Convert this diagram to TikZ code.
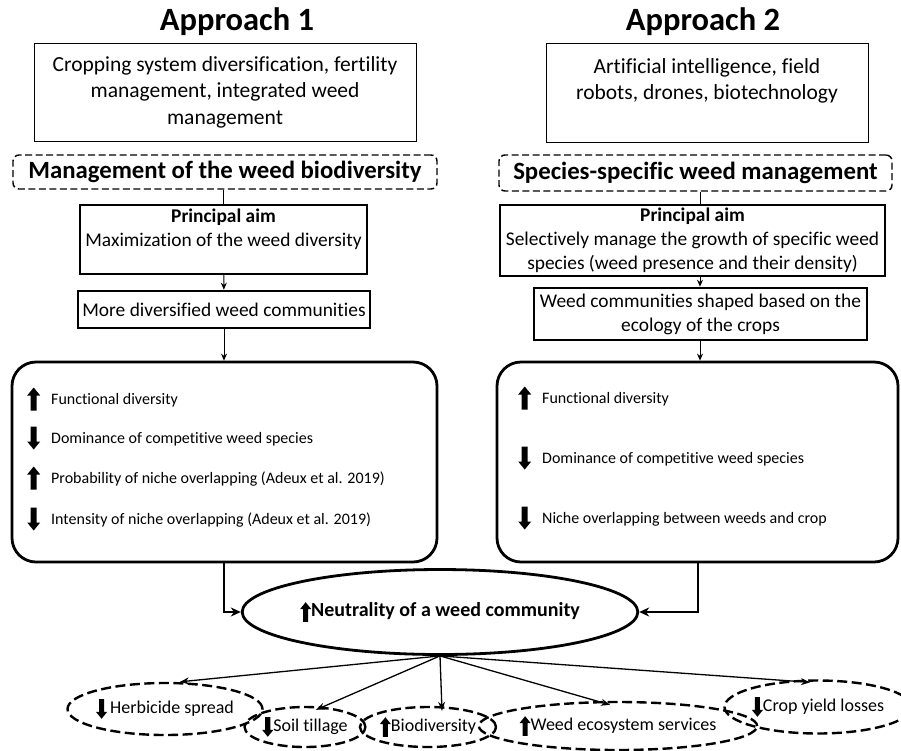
\documentclass[tikz,border=0pt]{standalone}
\usepackage{fontspec}
\setmainfont{Carlito}[Ligatures=NoCommon]
\usetikzlibrary{shapes.geometric,arrows.meta,calc}
\newcommand{\upI}[1][1]{\tikz[baseline=0pt,x=#1pt,y=#1pt]\fill (-3,-6)--(-3,9)--(-6.5,9)--(0,17)--(6.5,9)--(3,9)--(3,-6)--cycle;}
\newcommand{\downI}[1][1]{\tikz[baseline=0pt,x=#1pt,y=#1pt]\fill (-3,17)--(-3,2)--(-6.5,2)--(0,-6)--(6.5,2)--(3,2)--(3,17)--cycle;}
\newcommand{\fs}[2]{\fontsize{#1}{#2}\selectfont}
\tikzset{
  title/.style={font=\fs{32.5}{34}\bfseries, inner sep=0pt},
  toolbox/.style={draw, line width=1pt, inner sep=0pt, align=center, font=\fs{21.5}{26.5}},
  dbox/.style={draw, dashed, dash pattern=on 7pt off 3.5pt, line width=1.4pt, rounded corners=6pt, inner sep=0pt, font=\fs{24.8}{26}\bfseries},
  aimbox/.style={draw, line width=1.2pt, inner sep=0pt, align=center, font=\fs{19.4}{24}},
  combox/.style={draw, line width=2.6pt, inner sep=0pt, align=center, font=\fs{19.4}{24}},
  bigbox/.style={draw, line width=2.8pt, rounded corners=24pt, inner sep=0pt},
  item/.style={anchor=west, inner sep=0pt, font=\fs{16}{18}},
  neut/.style={draw, ellipse, line width=2.8pt, inner sep=0pt, font=\fs{20}{22}\bfseries},
  effect/.style={draw, ellipse, dashed, dash pattern=on 10pt off 4.5pt, line width=2.4pt, inner sep=0pt, font=\fs{18}{20}},
  thin/.style={line width=1pt},
  tarr/.style={line width=1pt, -{Stealth[length=7pt,width=6pt]}},
  bigarr/.style={line width=2.8pt, -{Stealth[length=10pt,width=9pt]}},
  outarr/.style={line width=1.3pt, -{Stealth[length=9pt,width=7pt]}},
}
\begin{document}
\begin{tikzpicture}[x=1pt,y=-1pt]
\useasboundingbox (0,0) rectangle (901,750);
\fill[white] (0,0) rectangle (901,750);

% Approach 1
\node[title] (t1) at (237,22) {Approach 1};
\node[toolbox, minimum width=382pt, minimum height=98pt] (b1) at (225,92) {Cropping system diversification, fertility\\management, integrated weed\\management};
\node[dbox, minimum width=424pt, minimum height=34pt] (d1) at (225,172) {Management of the weed biodiversity};
\node[aimbox, minimum width=287pt, minimum height=69pt] (p1) at (223.5,239.5) {\textbf{Principal aim}\\Maximization of the weed diversity\\\mbox{}};
\node[combox, minimum width=292pt, minimum height=37pt] (m1) at (224,309.5) {More diversified weed communities};
\node[bigbox, minimum width=425pt, minimum height=200pt] (B1) at (224.5,462) {};
\node[item] (i11) at (27,399) {\upI\hspace{11pt}Functional diversity};
\node[item] (i12) at (27,438) {\downI\hspace{11pt}Dominance of competitive weed species};
\node[item] (i13) at (27,478) {\upI\hspace{11pt}Probability of niche overlapping (Adeux et al. 2019)};
\node[item] (i14) at (27,519) {\downI\hspace{11pt}Intensity of niche overlapping (Adeux et al. 2019)};

% Approach 2
\node[title] (t2) at (703,22) {Approach 2};
\node[toolbox, minimum width=322pt, minimum height=99pt] (b2) at (707,92.5) {Artificial intelligence, field\\robots, drones, biotechnology\\\mbox{}};
\node[dbox, minimum width=393pt, minimum height=36pt] (d2) at (695.5,173) {Species-specific weed management};
\node[aimbox, minimum width=385pt, minimum height=71pt] (p2) at (692.5,240.5) {\textbf{Principal aim}\\Selectively manage the growth of specific weed\\species (weed presence and their density)};
\node[combox, minimum width=333pt, minimum height=52pt] (m2) at (700.5,314) {Weed communities shaped based on the\\ecology of the crops};
\node[bigbox, minimum width=401pt, minimum height=200pt] (B2) at (697.5,462) {};
\node[item] (i21) at (518,398) {\upI\hspace{11pt}Functional diversity};
\node[item] (i22) at (518,458) {\downI\hspace{11pt}Dominance of competitive weed species};
\node[item] (i23) at (518,518) {\downI\hspace{11pt}Niche overlapping between weeds and crop};

% central ellipse
\node[neut, minimum width=300pt, minimum height=85pt] (E) at (440,612) {\upI[0.85]Neutrality of a weed community};

% effects
\node[effect, minimum width=170pt, minimum height=52pt] (h) at (165,709) {\downI[0.85]\hspace{3pt}Herbicide spread};
\node[effect, minimum width=114pt, minimum height=40pt] (s) at (305,727) {\downI[0.85]Soil tillage};
\node[effect, minimum width=127pt, minimum height=40pt] (bio) at (428,727) {\upI[0.85]Biodiversity};
\node[effect, minimum width=237pt, minimum height=48pt] (w) at (618,726) {\upI[0.85]Weed ecosystem services};
\node[effect, minimum width=163pt, minimum height=53pt] (c) at (818,707) {\downI[0.85]Crop yield losses};

% connectors
\draw[thin] (d1.south -| p1.north) -- (p1.north);
\draw[tarr] (p1) -- (m1);
\draw[tarr] (m1) -- (B1.north -| m1.south);
\draw[thin] (d2.south -| 700,0) -- (p2.north -| 700,0);
\draw[tarr] (p2.south -| 700,0) -- (m2.north -| 700,0);
\draw[tarr] (m2.south -| 700,0) -- (B2.north -| 700,0);
\draw[bigarr] (B1.south -| 224,0) |- (E.west);
\draw[bigarr] (B2.south -| 698,0) |- (E.east);

\draw[outarr] (E.south) -- ([xshift=15pt]h.north);
\draw[outarr] (E.south) -- ([xshift=11pt,yshift=-4pt]s.north);
\draw[outarr] (E.south) -- ([xshift=14pt,yshift=-5pt]bio.north);
\draw[outarr] (E.south) -- ([xshift=-8pt,yshift=-4pt]w.north);
\draw[outarr] (E.south) -- ([xshift=-8pt,yshift=-3pt]c.north);
\end{tikzpicture}
\end{document}
